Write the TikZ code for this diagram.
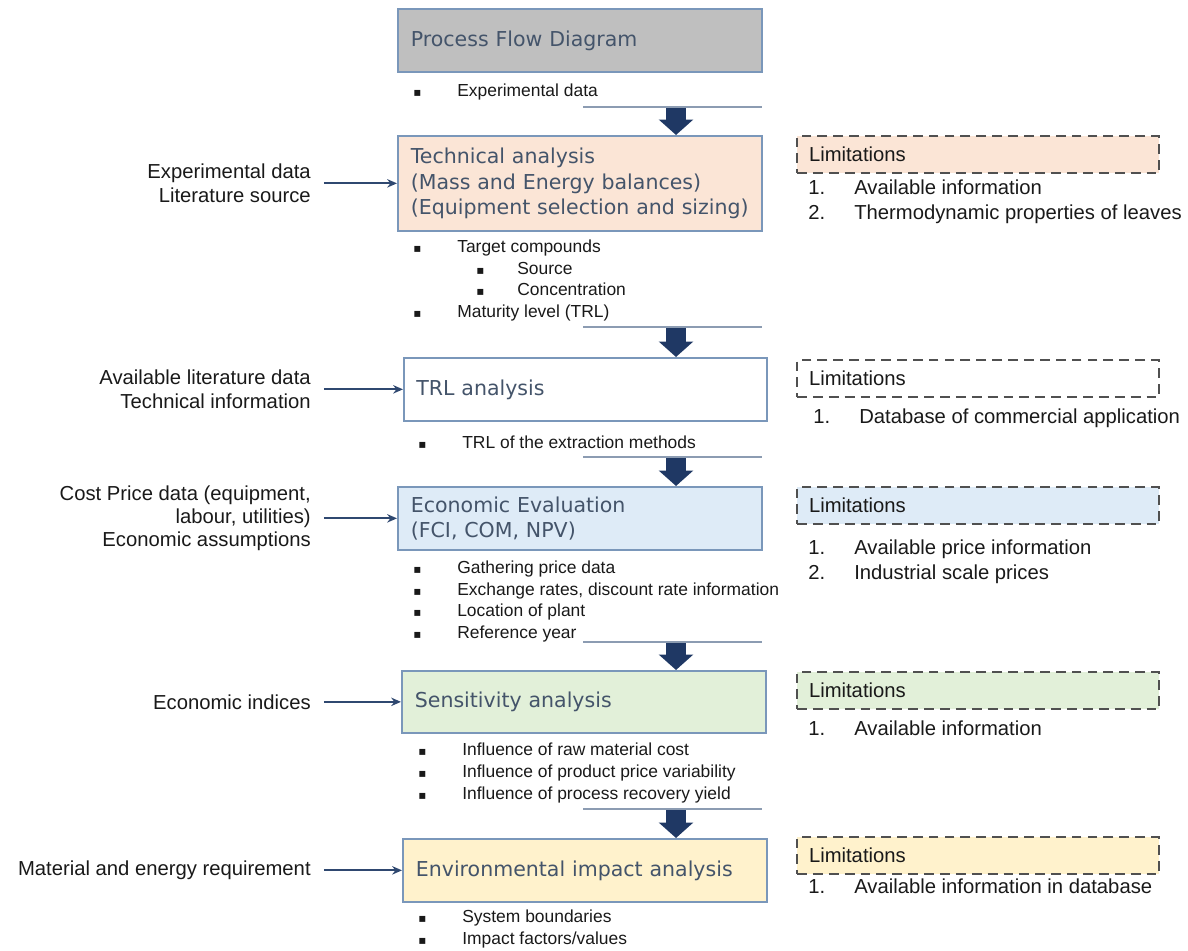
\documentclass[tikz,border=0pt]{standalone}
\usepackage{fontspec}
\setmainfont{Liberation Sans}
\newfontfamily\boxfont{DejaVu Sans}
\usetikzlibrary{arrows.meta, positioning}

\definecolor{stagegray}{RGB}{191,191,191}
\definecolor{stageline}{RGB}{122,151,186}
\definecolor{titleblue}{RGB}{68,84,106}
\definecolor{peach}{RGB}{251,229,214}
\definecolor{paleblue}{RGB}{222,235,247}
\definecolor{palegreen}{RGB}{226,240,217}
\definecolor{paleyellow}{RGB}{255,242,204}
\definecolor{navy}{RGB}{31,56,100}
\definecolor{feedblue}{RGB}{47,72,112}
\definecolor{rulegray}{RGB}{140,156,178}
\definecolor{dashgray}{RGB}{80,80,80}
\definecolor{ink}{RGB}{25,25,25}

\newcommand{\bul}[1]{\makebox[31.3pt][l]{\boxfont\fontsize{8.5}{9}\selectfont ▪}#1}
\newcommand{\subbul}[1]{\hspace*{44.8pt}\makebox[29.2pt][l]{\boxfont\fontsize{8.5}{9}\selectfont ▪}#1}
\newcommand{\limno}[1]{\makebox[32.7pt][l]{#1}}

\tikzset{
x=0.025cm, y=-0.025cm, % one unit is one pixel of the layout
stage/.style={draw=stageline, line width=1.2pt, anchor=north west,
  minimum width=9.1cm, minimum height=1.575cm, text width=8.45cm,
  inner xsep=0.325cm, align=left, text=titleblue,
  font=\boxfont\fontsize{14.6}{18}\selectfont}, % the six steps
limit/.style={draw=dashgray, line width=1.4pt, dash pattern=on 7pt off 4.3pt,
  anchor=north west, minimum width=9.05cm, minimum height=0.925cm,
  text width=8.45cm, inner xsep=0.3cm, align=left, text=ink,
  font=\fontsize{14.4}{17}\selectfont}, % dashed "Limitations" boxes
notes/.style={anchor=west, align=left, inner sep=0pt, text=ink,
  font=\fontsize{12.4}{15.5}\selectfont}, % bullets under a step
limlist/.style={anchor=west, align=left, inner sep=0pt, text=ink,
  font=\fontsize{14.4}{17.8}\selectfont}, % numbered limitations
inlabel/.style={align=right, inner ysep=0pt, inner xsep=0.325cm, text=ink,
  font=\fontsize{14.4}{16.6}\selectfont}, % inputs on the left
feed/.style={draw=feedblue, line width=1.3pt, -{Stealth[length=7pt,width=6pt]}},
down/.style={draw=navy, line width=14.2pt, -{Triangle[length=11pt,width=24pt]}},
rulers/.style={draw=rulegray, line width=0.8pt},
}

\begin{document}
\begin{tikzpicture}
    \useasboundingbox (0,0) rectangle (1188,951);

    % Steps
    \node[stage, fill=stagegray] (pfd) at (397,8) {Process Flow Diagram};
    \node[stage, fill=peach, minimum height=2.375cm] (tech) at (397,135)
        {Technical analysis\\(Mass and Energy balances)\\(Equipment selection and sizing)};
    \node[stage, fill=white, minimum width=9.075cm, inner xsep=0.3cm] (trl) at (403,357) {TRL analysis};
    \node[stage, fill=paleblue] (econ) at (397,486) {Economic Evaluation\\(FCI, COM, NPV)};
    \node[stage, fill=palegreen, minimum height=1.55cm] (sens) at (401,670) {Sensitivity analysis};
    \node[stage, fill=paleyellow, minimum width=9.075cm] (env) at (402,838) {Environmental impact analysis};

    % Bullets under each step
    \node[notes] (pfdNotes) at (413,92) {\bul{Experimental data}};
    \node[notes] (techNotes) at (413,280.5)
        {\bul{Target compounds}\\\subbul{Source}\\\subbul{Concentration}\\\bul{Maturity level (TRL)}};
    \node[notes] (trlNotes) at (418,442) {\bul{TRL of the extraction methods}};
    \node[notes] (econNotes) at (413,601.5)
        {\bul{Gathering price data}\\\bul{Exchange rates, discount rate information}\\\bul{Location of plant}\\\bul{Reference year}};
    \node[notes] (sensNotes) at (418,773)
        {\bul{Influence of raw material cost}\\\bul{Influence of product price variability}\\\bul{Influence of process recovery yield}};
    \node[notes] (envNotes) at (418,929) {\bul{System boundaries}\\\bul{Impact factors/values}};

    % Rules and big arrows between steps
    \foreach \y/\nxt [count=\i] in {107/tech, 327/trl, 457/econ, 642/sens, 809/env} {
        \coordinate (cutL\i) at (583,\y);
        \coordinate (cutR\i) at (762,\y);
        \coordinate (drop\i) at (676,\y+1);
        \draw[rulers] (cutL\i) -- (cutR\i);
        \draw[down] (drop\i) -- (drop\i |- \nxt.north);
    }

    % Inputs
    \node[inlabel, left=1.825cm of tech] (inTech) {Experimental data\\Literature source};
    \node[inlabel, left=1.975cm of trl] (inTrl) {Available literature data\\Technical information};
    \node[inlabel, left=1.825cm of econ] (inEcon)
        {Cost Price data (equipment,\\labour, utilities)\\Economic assumptions};
    \node[inlabel, left=1.925cm of sens] (inSens) {Economic indices};
    \node[inlabel, left=1.95cm of env] (inEnv) {Material and energy requirement};
    \draw[feed] (inTech) -- (tech);
    \draw[feed] (inTrl) -- (trl);
    \draw[feed] (inEcon) -- (econ);
    \draw[feed] (inSens) -- (sens);
    \draw[feed] (inEnv) -- (env);

    % Limitations
    \node[limit, fill=peach] (limTech) at (796,135) {Limitations};
    \node[limlist] (limTechList) at (808,201.5)
        {\limno{1.}Available information\\\limno{2.}Thermodynamic properties of leaves};
    \node[limit, fill=white] (limTrl) at (796,359) {Limitations};
    \node[limlist] (limTrlList) at (813,418) {\limno{1.}Database of commercial application};
    \node[limit, fill=paleblue] (limEcon) at (796,486) {Limitations};
    \node[limlist] (limEconList) at (808,561.5)
        {\limno{1.}Available price information\\\limno{2.}Industrial scale prices};
    \node[limit, fill=palegreen] (limSens) at (796,671) {Limitations};
    \node[limlist] (limSensList) at (808,728) {\limno{1.}Available information};
    \node[limit, fill=paleyellow] (limEnv) at (796,836) {Limitations};
    \node[limlist] (limEnvList) at (808,886) {\limno{1.}Available information in database};
\end{tikzpicture}
\end{document}
